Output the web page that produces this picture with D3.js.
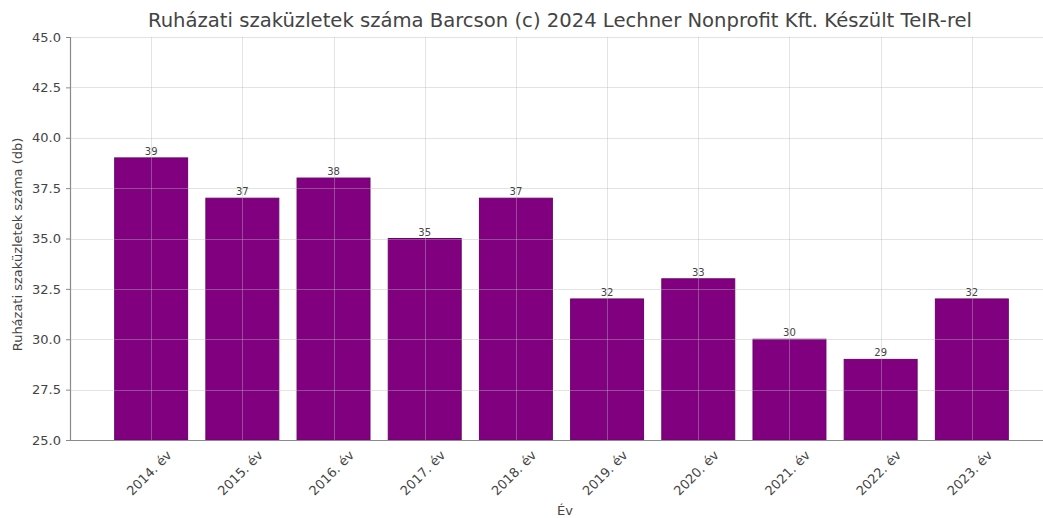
<!DOCTYPE html>
<html>
<head>
<meta charset="utf-8">
<script src="https://cdn.jsdelivr.net/npm/d3@7"></script>
<style>
  html, body { margin: 0; padding: 0; background: #fff; }
  svg { display: block; font-family: "DejaVu Sans", sans-serif; }
</style>
</head>
<body>
<svg id="chart" width="1043" height="518"></svg>
<script>
// Chart data
const years = ["2014. év", "2015. év", "2016. év", "2017. év", "2018. év",
               "2019. év", "2020. év", "2021. év", "2022. év", "2023. év"];
const shopCounts = [39, 37, 38, 35, 37, 32, 33, 30, 29, 32];
const yTicks = [25.0, 27.5, 30.0, 32.5, 35.0, 37.5, 40.0, 42.5, 45.0];

const titleText = "Ruházati szaküzletek száma Barcson (c) 2024 Lechner Nonprofit Kft. Készült TeIR-rel";
const yLabelText = "Ruházati szaküzletek száma (db)";
const xLabelText = "Év";

const svg = d3.select("#chart");
const W = 1043, H = 518;
const plot = { left: 70, top: 37, bottom: 440, right: 1053 };
const barWidth = 0.8;
const barColor = "#800080";
const axisColor = "#8a8a8a";
const textColor = "#444";

// x in category-index units with margins around the bars
const x = d3.scaleLinear().domain([-0.89, years.length - 1 + 0.89]).range([plot.left, plot.right]);
const y = d3.scaleLinear().domain([25, 45]).range([plot.bottom, plot.top]);

// Bars
svg.append("g").selectAll("rect")
  .data(shopCounts)
  .join("rect")
  .attr("x", (d, i) => x(i - barWidth / 2))
  .attr("width", (d, i) => x(i + barWidth / 2) - x(i - barWidth / 2))
  .attr("y", d => y(d))
  .attr("height", d => y(25) - y(d))
  .attr("fill", barColor)
  .attr("stroke", "#6d006d")
  .attr("stroke-width", 1);

// Grid drawn over the bars
const grid = svg.append("g").attr("stroke", "#b8b8b8").attr("stroke-opacity", 0.4).attr("stroke-width", 1);
grid.selectAll("line.h")
  .data(yTicks)
  .join("line")
  .attr("class", "h")
  .attr("x1", plot.left).attr("x2", W)
  .attr("y1", d => Math.round(y(d)) + 0.5).attr("y2", d => Math.round(y(d)) + 0.5);
grid.selectAll("line.v")
  .data(years.map((d, i) => i))
  .join("line")
  .attr("class", "v")
  .attr("y1", plot.top).attr("y2", plot.bottom)
  .attr("x1", i => Math.round(x(i)) + 0.5).attr("x2", i => Math.round(x(i)) + 0.5);

// Value labels
svg.append("g").selectAll("text")
  .data(shopCounts)
  .join("text")
  .attr("x", (d, i) => x(i))
  .attr("y", d => y(d) - 3)
  .attr("text-anchor", "middle")
  .attr("font-size", 10)
  .attr("fill", textColor)
  .text(d => d);

// Y axis
const yAxis = d3.axisLeft(y).tickValues(yTicks).tickFormat(d3.format(".1f")).tickSize(4).tickPadding(5);
const gy = svg.append("g").attr("transform", `translate(${plot.left},0)`).call(yAxis);
gy.select(".domain").attr("stroke", axisColor).attr("stroke-width", 1.2);
gy.selectAll(".tick line").attr("stroke", axisColor);
gy.selectAll(".tick text").attr("font-size", 13).attr("fill", textColor).attr("font-family", "DejaVu Sans");

// X axis baseline
const xAxis = d3.axisBottom(x).tickValues(years.map((d, i) => i)).tickFormat("").tickSize(0);
const gx = svg.append("g").attr("transform", `translate(0,${plot.bottom})`).call(xAxis);
gx.select(".domain").attr("stroke", axisColor).attr("stroke-width", 1.2);

// Rotated category labels
svg.append("g").selectAll("text")
  .data(years)
  .join("text")
  .attr("transform", (d, i) => `translate(${x(i) - 2},${plot.bottom + 33}) rotate(-45)`)
  .attr("text-anchor", "middle")
  .attr("dominant-baseline", "central")
  .attr("font-size", 13)
  .attr("fill", textColor)
  .text(d => d);

// Title
svg.append("text")
  .attr("x", 560)
  .attr("y", 27)
  .attr("text-anchor", "middle")
  .attr("font-size", 19.6)
  .attr("fill", textColor)
  .text(titleText);

// Axis titles
svg.append("text")
  .attr("transform", `translate(22,${(plot.top + plot.bottom) / 2 + 6}) rotate(-90)`)
  .attr("text-anchor", "middle")
  .attr("font-size", 13)
  .attr("fill", textColor)
  .text(yLabelText);

svg.append("text")
  .attr("x", 565)
  .attr("y", 515)
  .attr("text-anchor", "middle")
  .attr("font-size", 13)
  .attr("fill", textColor)
  .text(xLabelText);
</script>
</body>
</html>
